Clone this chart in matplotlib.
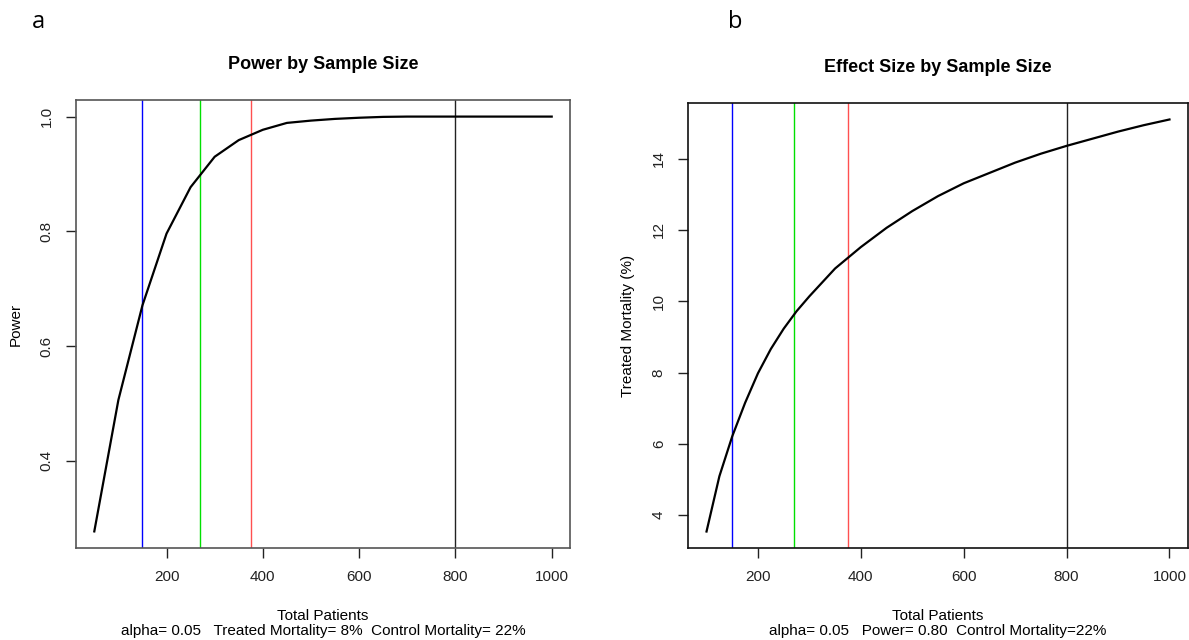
import matplotlib
matplotlib.use("Agg")
import matplotlib.pyplot as plt
import numpy as np

# panel a: power vs total patients (alpha 0.05, treated 8%, control 22%)
n_power = [50, 100, 150, 200, 250, 300, 350, 400, 450, 500, 550, 600,
           650, 700, 750, 800, 850, 900, 950, 1000]
power = [0.277, 0.506, 0.671, 0.796, 0.877, 0.930, 0.959, 0.977, 0.989, 0.993,
         0.996, 0.998, 0.9995, 1.0, 1.0, 1.0, 1.0, 1.0, 1.0, 1.0]

# panel b: detectable treated mortality (%) vs total patients (power 0.80)
n_eff = [100, 125, 150, 175, 200, 225, 250, 275, 300, 350, 400, 450, 500,
         550, 600, 650, 700, 750, 800, 850, 900, 950, 1000]
treated = [3.54, 5.09, 6.21, 7.15, 7.98, 8.66, 9.23, 9.72, 10.14, 10.92, 11.52,
           12.06, 12.53, 12.95, 13.31, 13.60, 13.89, 14.14, 14.36, 14.56, 14.76,
           14.94, 15.10]

# reference sample sizes
vlines_n = [150, 270, 375, 800]
vlines_col = ["#0000ff", "#00e000", "#ff5050", "#222222"]

xticks = [200, 400, 600, 800, 1000]

plt.rcParams['font.family'] = ['Liberation Sans', 'DejaVu Sans']

W, H = 1189, 640
fig = plt.figure(figsize=(W / 100, H / 100), dpi=100)


def r_axes(rect, x, y, yticks, title, ylabel, sub, frame_col, tpad):
    ax = fig.add_axes(rect)
    ax.plot(x, y, color="black", lw=1.6, zorder=3)
    for n, c in zip(vlines_n, vlines_col):
        ax.axvline(n, color=c, lw=1.0, zorder=2)
    xr = max(x) - min(x)
    yr = max(y) - min(y)
    ax.set_xlim(min(x) - 0.04 * xr, max(x) + 0.04 * xr)
    ax.set_ylim(min(y) - 0.04 * yr, max(y) + 0.04 * yr)
    ax.set_xticks(xticks)
    ax.set_yticks(yticks)
    ax.set_yticklabels([str(t) if isinstance(t, int) else "%.1f" % t for t in yticks],
                       rotation=90, va="center")
    ax.tick_params(direction="out", length=7, width=1, labelsize=11,
                   colors="#222222", pad=9)
    for s in ax.spines.values():
        s.set_color(frame_col)
        s.set_linewidth(1.2)
    ax.set_title(title, fontsize=13, fontweight="bold", pad=tpad)
    ax.set_ylabel(ylabel, fontsize=11, labelpad=12)
    ax.set_xlabel("Total Patients\n" + sub, fontsize=11, labelpad=18,
                  linespacing=1.05)
    return ax


r_axes([76 / W, 92 / H, 494 / W, 448 / H], n_power, power,
       [0.4, 0.6, 0.8, 1.0], "Power by Sample Size", "Power",
       "alpha= 0.05   Treated Mortality= 8%  Control Mortality= 22%", "#555555", 22)

r_axes([688 / W, 92 / H, 500 / W, 445 / H], n_eff, treated,
       [4, 6, 8, 10, 12, 14], "Effect Size by Sample Size", "Treated Mortality (%)",
       "alpha= 0.05   Power= 0.80  Control Mortality=22%", "#111111", 22)

fig.text(38 / W, 1 - 22 / H, "a", fontsize=17, family="Open Sans",
         ha="center", va="center")
fig.text(735 / W, 1 - 22 / H, "b", fontsize=17, family="Open Sans",
         ha="center", va="center")

fig.savefig("out.png", dpi=100, facecolor="white")
